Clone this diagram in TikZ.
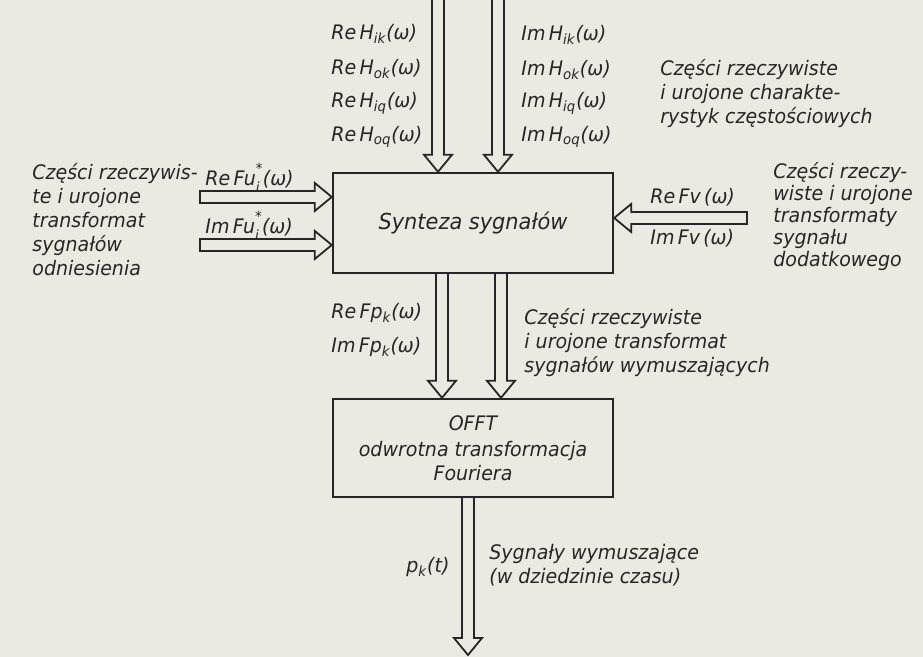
\documentclass[tikz,border=0pt]{standalone}
\usepackage{fontspec}
\setmainfont{DejaVu Sans}[FakeStretch=0.95]
\usepackage{tikz}
\usetikzlibrary{calc,positioning}
\definecolor{paper}{RGB}{234,234,226}
\definecolor{ink}{RGB}{38,38,38}

\begin{document}
\begin{tikzpicture}[
        x=0.5pt, y=-0.5pt,
        every node/.style={font=\itshape\fontsize{10}{12}\selectfont, text=ink, inner sep=1pt},
        block/.style={draw=ink, line width=1.2pt, minimum width=140pt, minimum height=50pt, align=center},
        lbl/.style={anchor=west},
        note/.style={anchor=west, align=left},
        hollow/.style={draw=ink, line width=0.9pt, line join=miter, to path={
            ($(\tikztostart)!3pt!90:(\tikztotarget)$)
            -- ($(\tikztotarget)!8.5pt!(\tikztostart)!3pt!90:(\tikztotarget)$)
            -- ($(\tikztotarget)!8.5pt!(\tikztostart)!7pt!90:(\tikztotarget)$)
            -- (\tikztotarget)
            -- ($(\tikztotarget)!8.5pt!(\tikztostart)!7pt!-90:(\tikztotarget)$)
            -- ($(\tikztotarget)!8.5pt!(\tikztostart)!3pt!-90:(\tikztotarget)$)
            -- ($(\tikztostart)!3pt!-90:(\tikztotarget)$) -- cycle}}
      ]
      \useasboundingbox[fill=paper] (0,0) rectangle (923,657);

      % blocks
      \node[block, font=\itshape\fontsize{11}{12}\selectfont] (syn) at (473,223) {Synteza sygnałów};
      \node[block, minimum height=49pt] (offt) at (473,448) {OFFT\\[1pt]odwrotna transformacja\\Fouriera};

      % arrow ends
      \coordinate (t1) at (438,-10);  \coordinate (t1e) at (t1 |- syn.north);
      \coordinate (t2) at (498,-10);  \coordinate (t2e) at (t2 |- syn.north);
      \coordinate (l1) at (200,197);  \coordinate (l1e) at (l1 -| syn.west);
      \coordinate (l2) at (200,245);  \coordinate (l2e) at (l2 -| syn.west);
      \coordinate (r1) at (747,218);  \coordinate (r1e) at (r1 -| syn.east);
      \coordinate (m1) at (442,273);  \coordinate (m1e) at (m1 |- offt.north);
      \coordinate (m2) at (501,273);  \coordinate (m2e) at (m2 |- offt.north);
      \coordinate (b1) at (468,497);  \coordinate (b1e) at (468,655);

      \draw[hollow] (t1) to (t1e);
      \draw[hollow] (t2) to (t2e);
      \draw[hollow] (l1) to (l1e);
      \draw[hollow] (l2) to (l2e);
      \draw[hollow] (r1) to (r1e);
      \draw[hollow] (m1) to (m1e);
      \draw[hollow] (m2) to (m2e);
      \draw[hollow] (b1) to (b1e);

      % labels at the top
      \node[lbl] (reik) at (329,34)  {Re\,H\textsubscript{ik}(ω)};
      \node[lbl] (reok) at (329,69)  {Re\,H\textsubscript{ok}(ω)};
      \node[lbl] (reiq) at (329,103) {Re\,H\textsubscript{iq}(ω)};
      \node[lbl] (reoq) at (329,137) {Re\,H\textsubscript{oq}(ω)};
      \node[lbl] (imik) at (519,35)  {Im\,H\textsubscript{ik}(ω)};
      \node[lbl] (imok) at (519,70)  {Im\,H\textsubscript{ok}(ω)};
      \node[lbl] (imiq) at (519,103) {Im\,H\textsubscript{iq}(ω)};
      \node[lbl] (imoq) at (519,137) {Im\,H\textsubscript{oq}(ω)};
      \node[note] (charnote) at (658,94) {Części rzeczywiste\\i urojone charakte-\\rystyk częstościowych};

      % left and right inputs
      \node[note] (refnote) at (30,220) {Części rzeczywis-\\te i urojone\\transformat\\sygnałów\\odniesienia};
      \node[lbl] (refu) at (203,178) {Re\,Fu\rlap{\raisebox{1.1ex}{\scriptsize *}}\raisebox{-0.6ex}{\scriptsize i}\,(ω)};
      \node[lbl] (imfu) at (203,226) {Im\,Fu\rlap{\raisebox{1.1ex}{\scriptsize *}}\raisebox{-0.6ex}{\scriptsize i}\,(ω)};
      \node[lbl] (refv) at (648,197) {Re\,Fv\,(ω)};
      \node[lbl] (imfv) at (648,238) {Im\,Fv\,(ω)};
      \node[note, font=\itshape\fontsize{10}{11}\selectfont] (addnote) at (771,217) {Części rzeczy-\\wiste i urojone\\transformaty\\sygnału\\dodatkowego};

      % between the blocks
      \node[lbl] (refp) at (329,313) {Re\,Fp\textsubscript{k}(ω)};
      \node[lbl] (imfp) at (329,347) {Im\,Fp\textsubscript{k}(ω)};
      \node[note] (exnote) at (522,343) {Części rzeczywiste\\i urojone transformat\\sygnałów wymuszających};

      % output
      \node[lbl] (pk) at (404,567) {p\textsubscript{k}(t)};
      \node[note] (outnote) at (487,565) {Sygnały wymuszające\\(w dziedzinie czasu)};
    \end{tikzpicture}
\end{document}
